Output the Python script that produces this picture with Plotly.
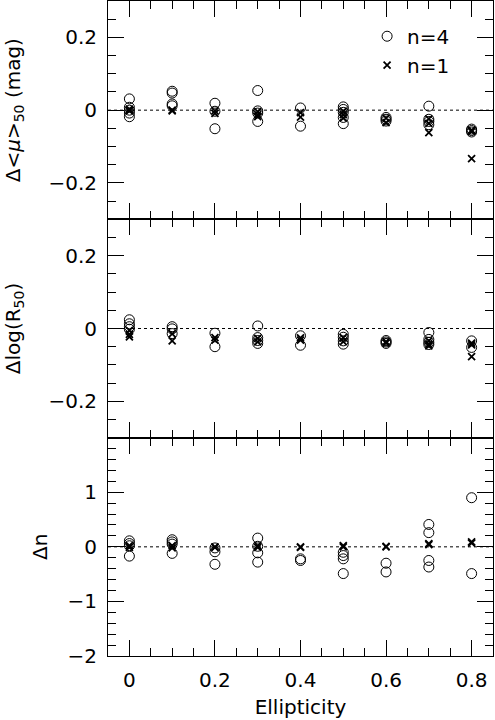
import plotly.graph_objects as go
from plotly.subplots import make_subplots

# ellipticity bins
ellipticity = [0.0, 0.1, 0.2, 0.3, 0.4, 0.5, 0.6, 0.7, 0.8]

# delta <mu>_50 (mag), one list per ellipticity
dmu_n4 = [[0.031, 0.008, 0.0, -0.008, -0.018], [0.052, 0.047, 0.017, 0.012],
          [0.019, -0.003, -0.051], [0.054, -0.002, -0.008, -0.031],
          [0.006, -0.044], [0.009, 0.002, -0.006, -0.020, -0.037],
          [-0.020, -0.025, -0.030], [0.011, -0.025, -0.031, -0.040],
          [-0.052, -0.056, -0.060]]
dmu_n1 = [[0.003, -0.002, 0.0], [-0.002, 0.0], [-0.002, -0.009],
          [-0.004, -0.012, -0.018], [-0.007, -0.019], [-0.003, -0.012, -0.022],
          [-0.022, -0.034], [-0.024, -0.036, -0.062], [-0.055, -0.059, -0.133]]

# delta log(R_50)
dlogr_n4 = [[0.024, 0.013, 0.005, -0.002], [0.005, -0.001, -0.014],
            [-0.013, -0.050], [0.007, -0.025, -0.033, -0.041],
            [-0.020, -0.046], [-0.016, -0.024, -0.034, -0.043],
            [-0.033, -0.037, -0.041], [-0.011, -0.030, -0.038, -0.044],
            [-0.034, -0.052]]
dlogr_n1 = [[-0.005, -0.016, -0.023], [-0.015, -0.034], [-0.025, -0.032],
            [-0.027, -0.037], [-0.026, -0.032], [-0.025, -0.036],
            [-0.036, -0.040], [-0.034, -0.043, -0.048], [-0.040, -0.045, -0.077]]

# delta n
dn_n4 = [[0.11, 0.06, 0.02, -0.17], [0.13, 0.09, 0.05, -0.12],
         [-0.02, -0.09, -0.32], [0.16, 0.01, -0.11, -0.28], [-0.22, -0.25],
         [-0.10, -0.16, -0.22, -0.49], [-0.30, -0.46],
         [0.41, 0.26, -0.25, -0.37], [0.90, -0.49]]
dn_n1 = [[0.02, -0.01], [0.02, -0.02], [0.0, -0.01], [0.02, -0.01],
         [0.0, -0.01], [0.02, 0.0], [0.01, 0.0], [0.06, 0.04], [0.09, 0.07]]

panels = [(dmu_n4, dmu_n1), (dlogr_n4, dlogr_n1), (dn_n4, dn_n1)]
ytitles = ["Δ&lt;<i>μ</i>&gt;<sub>50</sub> (mag)", "Δlog(R<sub>50</sub>)", "Δn"]


def flat(groups):
    xs, ys = [], []
    for e, vals in zip(ellipticity, groups):
        xs += [e] * len(vals)
        ys += vals
    return xs, ys


FONT = "DejaVu Sans"
fig = make_subplots(rows=3, cols=1, shared_xaxes=True, vertical_spacing=0)

for i, (n4, n1) in enumerate(panels):
    row = i + 1
    x4, y4 = flat(n4)
    x1, y1 = flat(n1)
    fig.add_trace(go.Scatter(x=x4, y=y4, mode="markers", name="n=4",
                             showlegend=(row == 1),
                             marker=dict(symbol="circle-open", size=10, color="black",
                                         line=dict(width=1, color="black"))),
                  row=row, col=1)
    fig.add_trace(go.Scatter(x=x1, y=y1, mode="markers", name="n=1",
                             showlegend=(row == 1),
                             marker=dict(symbol="x-thin-open", size=7, color="black",
                                         line=dict(width=1.8, color="black"))),
                  row=row, col=1)
    # dotted zero line
    fig.add_shape(type="line", xref="x domain", yref="y" if row == 1 else "y%d" % row,
                  x0=0, x1=1, y0=0, y1=0,
                  line=dict(color="black", width=1, dash="dot"))

axis_common = dict(showline=True, linecolor="black", linewidth=1, mirror="allticks",
                   ticks="inside", tickcolor="black", tickwidth=1, ticklen=16,
                   showgrid=False, zeroline=False,
                   tickfont=dict(family=FONT, size=20, color="black"))

for row in (1, 2, 3):
    fig.update_xaxes(range=[-0.05, 0.85], tickvals=[0, 0.2, 0.4, 0.6, 0.8],
                     ticktext=["0", "0.2", "0.4", "0.6", "0.8"],
                     minor=dict(dtick=0.05, tick0=0, ticks="inside", ticklen=8,
                                tickcolor="black", tickwidth=1, showgrid=False),
                     showticklabels=(row == 3), ticklabelstandoff=6,
                     row=row, col=1, **axis_common)

for row in (1, 2):
    fig.update_yaxes(range=[-0.3, 0.3], tickvals=[-0.2, 0, 0.2],
                     minor=dict(dtick=0.05, tick0=0, ticks="inside", ticklen=8,
                                tickcolor="black", tickwidth=1, showgrid=False),
                     ticklabelstandoff=6,
                     title=dict(text=ytitles[row - 1], standoff=22,
                                font=dict(family=FONT, size=20, color="black")),
                     row=row, col=1, **axis_common)
fig.update_yaxes(range=[-2, 2], tickvals=[-2, -1, 0, 1],
                 minor=dict(dtick=0.2, tick0=0, ticks="inside", ticklen=8,
                            tickcolor="black", tickwidth=1, showgrid=False),
                 ticklabelstandoff=6,
                 title=dict(text=ytitles[2], standoff=14,
                            font=dict(family=FONT, size=20, color="black")),
                 row=3, col=1, **axis_common)
fig.update_xaxes(title=dict(text="Ellipticity", standoff=8,
                            font=dict(family=FONT, size=20, color="black")),
                 row=3, col=1)

fig.update_layout(
    width=495, height=720,
    margin=dict(l=108, r=2, t=1, b=64),
    plot_bgcolor="white", paper_bgcolor="white",
    font=dict(family=FONT, size=20, color="black"),
    legend=dict(x=0.673, y=0.976, xanchor="left", yanchor="top",
                bgcolor="rgba(0,0,0,0)", font=dict(family=FONT, size=20, color="black")),
)

fig.write_html("out.html", config={"displayModeBar": False},
               post_script="document.body.style.margin='0';")
